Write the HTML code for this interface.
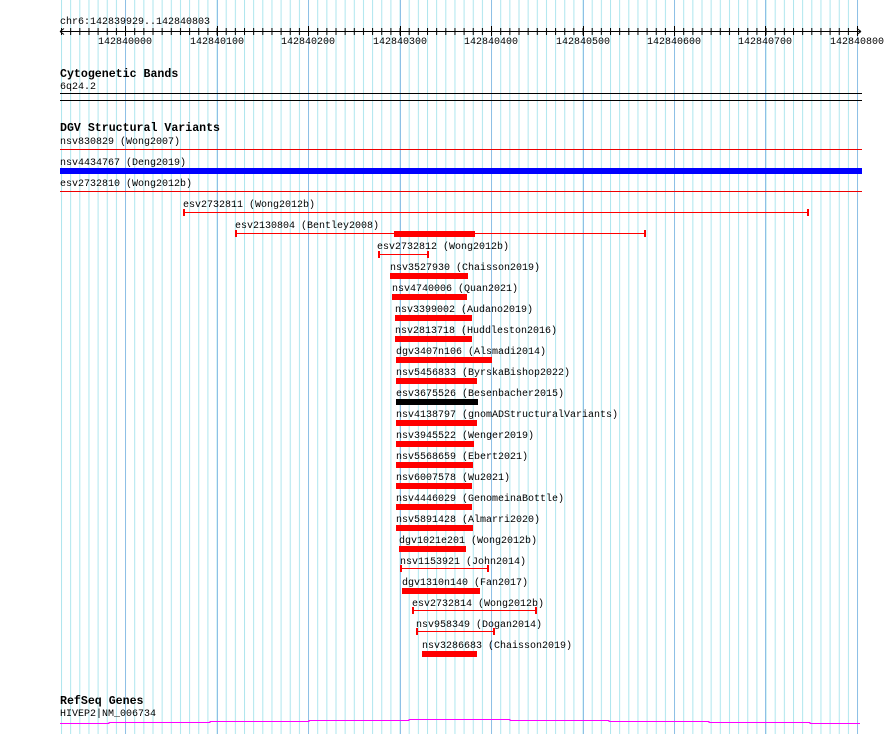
<!DOCTYPE html>
<html><head><meta charset="utf-8"><style>
html,body{margin:0;padding:0;background:#fff;}
svg{display:block;}
text{font-family:"Liberation Mono","DejaVu Sans Mono",monospace;font-size:10px;fill:#000;}
.h{font-weight:bold;font-size:11.6px;}
</style></head><body>
<svg width="890" height="734" viewBox="0 0 890 734" xmlns="http://www.w3.org/2000/svg">
<defs>
<pattern id="g" patternUnits="userSpaceOnUse" x="61" y="0" width="9.15" height="10">
<rect x="0" y="0" width="1" height="10" fill="#aee6ee"/>
</pattern>
<pattern id="t" patternUnits="userSpaceOnUse" x="61" y="0" width="9.15" height="10">
<rect x="0" y="0" width="1" height="10" fill="#000"/>
</pattern>
</defs>
<rect x="60" y="0" width="801" height="734" fill="url(#g)"/>
<g fill="#8ec0e6">
<rect x="125" y="0" width="1" height="734"/><rect x="217" y="0" width="1" height="734"/>
<rect x="308" y="0" width="1" height="734"/><rect x="400" y="0" width="1" height="734"/>
<rect x="491" y="0" width="1" height="734"/><rect x="583" y="0" width="1" height="734"/>
<rect x="674" y="0" width="1" height="734"/><rect x="765" y="0" width="1" height="734"/>
<rect x="857" y="0" width="1" height="734"/>
</g>
<text x="60" y="24">chr6:142839929..142840803</text>
<rect x="60" y="31" width="800" height="1" fill="#000"/>
<rect x="60" y="28" width="801" height="7" fill="url(#t)"/>
<path d="M60 31.5 l4 -3 M60 31.5 l4 3 M861 31.5 l-4 -3 M861 31.5 l-4 3" stroke="#000" fill="none"/>
<g fill="#000">
<rect x="125" y="26" width="1" height="10"/><rect x="217" y="26" width="1" height="10"/><rect x="308" y="26" width="1" height="10"/><rect x="400" y="26" width="1" height="10"/><rect x="491" y="26" width="1" height="10"/><rect x="583" y="26" width="1" height="10"/><rect x="674" y="26" width="1" height="10"/><rect x="765" y="26" width="1" height="10"/><rect x="857" y="26" width="1" height="10"/>
</g>
<g text-anchor="middle">
<text x="125" y="44">142840000</text><text x="217" y="44">142840100</text><text x="308" y="44">142840200</text><text x="400" y="44">142840300</text><text x="491" y="44">142840400</text><text x="583" y="44">142840500</text><text x="674" y="44">142840600</text><text x="765" y="44">142840700</text><text x="857" y="44">142840800</text>
</g>
<text class="h" x="60" y="77">Cytogenetic Bands</text>
<text x="60" y="89">6q24.2</text>
<rect x="60" y="93" width="802" height="1" fill="#000"/>
<rect x="60" y="100" width="802" height="1" fill="#000"/>
<text class="h" x="60" y="131">DGV Structural Variants</text>
<text x="60" y="144">nsv830829 (Wong2007)</text>
<rect x="60" y="149" width="802" height="1" fill="#e00"/>
<text x="60" y="165">nsv4434767 (Deng2019)</text>
<rect x="60" y="168" width="802" height="6" fill="#0000ff"/>
<text x="60" y="186">esv2732810 (Wong2012b)</text>
<rect x="60" y="191" width="802" height="1" fill="#e00"/>
<g fill="#f00">
<rect x="184" y="212" width="624" height="1"/><rect x="183" y="209" width="2" height="7"/><rect x="807" y="209" width="2" height="7"/>
<rect x="236" y="233" width="409" height="1"/><rect x="235" y="230" width="2" height="7"/><rect x="644" y="230" width="2" height="7"/><rect x="394" y="231" width="81" height="6"/>
<rect x="379" y="254" width="49" height="1"/><rect x="378" y="251" width="2" height="7"/><rect x="427" y="251" width="2" height="7"/>
<rect x="390" y="273" width="78" height="6"/>
<rect x="392" y="294" width="75" height="6"/>
<rect x="395" y="315" width="77" height="6"/>
<rect x="395" y="336" width="77" height="6"/>
<rect x="396" y="357" width="96" height="6"/>
<rect x="396" y="378" width="81" height="6"/>
<rect x="396" y="420" width="81" height="6"/>
<rect x="396" y="441" width="78" height="6"/>
<rect x="396" y="462" width="77" height="6"/>
<rect x="396" y="483" width="76" height="6"/>
<rect x="396" y="504" width="76" height="6"/>
<rect x="396" y="525" width="77" height="6"/>
<rect x="399" y="546" width="67" height="6"/>
<rect x="400" y="568" width="88" height="1"/><rect x="400" y="565" width="2" height="7"/><rect x="487" y="565" width="2" height="7"/>
<rect x="402" y="588" width="78" height="6"/>
<rect x="413" y="610" width="123" height="1"/><rect x="412" y="607" width="2" height="7"/><rect x="535" y="607" width="2" height="7"/>
<rect x="417" y="631" width="77" height="1"/><rect x="416" y="628" width="2" height="7"/><rect x="493" y="628" width="2" height="7"/>
<rect x="422" y="651" width="55" height="6"/>
</g>
<rect x="396" y="399" width="82" height="6" fill="#000"/>
<text x="183" y="207">esv2732811 (Wong2012b)</text>
<text x="235" y="228">esv2130804 (Bentley2008)</text>
<text x="377" y="249">esv2732812 (Wong2012b)</text>
<text x="390" y="270">nsv3527930 (Chaisson2019)</text>
<text x="392" y="291">nsv4740006 (Quan2021)</text>
<text x="395" y="312">nsv3399002 (Audano2019)</text>
<text x="395" y="333">nsv2813718 (Huddleston2016)</text>
<text x="396" y="354">dgv3407n106 (Alsmadi2014)</text>
<text x="396" y="375">nsv5456833 (ByrskaBishop2022)</text>
<text x="396" y="396">esv3675526 (Besenbacher2015)</text>
<text x="396" y="417">nsv4138797 (gnomADStructuralVariants)</text>
<text x="396" y="438">nsv3945522 (Wenger2019)</text>
<text x="396" y="459">nsv5568659 (Ebert2021)</text>
<text x="396" y="480">nsv6007578 (Wu2021)</text>
<text x="396" y="501">nsv4446029 (GenomeinaBottle)</text>
<text x="396" y="522">nsv5891428 (Almarri2020)</text>
<text x="399" y="543">dgv1021e201 (Wong2012b)</text>
<text x="400" y="564">nsv1153921 (John2014)</text>
<text x="402" y="585">dgv1310n140 (Fan2017)</text>
<text x="412" y="606">esv2732814 (Wong2012b)</text>
<text x="416" y="627">nsv958349 (Dogan2014)</text>
<text x="422" y="648">nsv3286683 (Chaisson2019)</text>
<text class="h" x="60" y="704">RefSeq Genes</text>
<text x="60" y="716">HIVEP2|NM_006734</text>
<polyline points="60,723.5 109,723.5 109,722.5 210,722.5 210,721.5 309,721.5 309,720.5 409,720.5 409,719.5 510,719.5 510,720.5 609,720.5 609,721.5 709,721.5 709,722.5 810,722.5 810,723.5 860,723.5" fill="none" stroke="#f0f" stroke-width="1"/>
</svg>
</body></html>
